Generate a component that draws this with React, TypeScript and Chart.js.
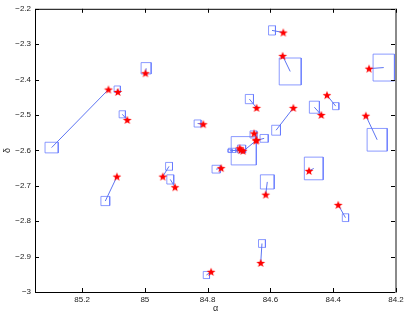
import React, { useEffect, useRef } from 'react';
import { Chart, registerables } from 'chart.js';
Chart.register(...registerables);

// Star positions (alpha, delta)
const starAlpha = [85.116, 85.086, 85.056, 84.998, 84.814, 84.559, 84.561, 84.286, 84.644, 84.527, 84.438, 84.420, 84.296, 84.644, 84.646, 84.652, 84.698, 84.687, 84.694, 84.943, 84.904, 84.757, 84.615, 84.477, 85.089, 84.789, 84.631, 84.384];
const starDelta = [-2.428, -2.435, -2.514, -2.382, -2.526, -2.267, -2.333, -2.369, -2.480, -2.480, -2.500, -2.444, -2.502, -2.571, -2.572, -2.552, -2.594, -2.601, -2.599, -2.674, -2.704, -2.650, -2.725, -2.658, -2.674, -2.943, -2.918, -2.754];
// Box centres (alpha, delta) and half-extents (errors)
const boxAlpha = [85.297, 85.088, 85.072, 84.996, 84.832, 84.595, 84.537, 84.239, 84.667, 84.582, 84.460, 84.392, 84.260, 84.685, 84.620, 84.654, 84.692, 84.722, 84.729, 84.923, 84.919, 84.773, 84.610, 84.462, 85.126, 84.804, 84.627, 84.361];
const boxDelta = [-2.592, -2.427, -2.498, -2.368, -2.524, -2.261, -2.377, -2.366, -2.455, -2.543, -2.478, -2.475, -2.570, -2.601, -2.566, -2.555, -2.596, -2.600, -2.601, -2.645, -2.682, -2.653, -2.689, -2.651, -2.743, -2.952, -2.863, -2.790];
const alphaErr = [0.021, 0.010, 0.010, 0.016, 0.011, 0.011, 0.035, 0.034, 0.013, 0.014, 0.016, 0.010, 0.032, 0.040, 0.013, 0.011, 0.013, 0.012, 0.007, 0.011, 0.011, 0.013, 0.022, 0.030, 0.014, 0.010, 0.011, 0.010];
const deltaErr = [0.015, 0.009, 0.010, 0.016, 0.010, 0.013, 0.038, 0.038, 0.013, 0.014, 0.017, 0.010, 0.032, 0.040, 0.011, 0.010, 0.011, 0.006, 0.004, 0.011, 0.013, 0.011, 0.020, 0.032, 0.013, 0.010, 0.011, 0.011];

const xTicks = [85.2, 85, 84.8, 84.6, 84.4, 84.2];
const yTicks = [-3, -2.9, -2.8, -2.7, -2.6, -2.5, -2.4, -2.3, -2.2];
const xLabel = 'α';
const yLabel = 'δ';

const FONT = '"Liberation Sans", Arial, sans-serif';

function makeStar(): HTMLCanvasElement {
  const c = document.createElement('canvas');
  c.width = 10; c.height = 10;
  const g = c.getContext('2d')!;
  g.fillStyle = '#ff0000';
  g.beginPath();
  const cx = 5, cy = 5.3, ro = 4.6, ri = 1.9;
  for (let k = 0; k < 10; k++) {
    const r = k % 2 === 0 ? ro : ri;
    const a = -Math.PI / 2 + (k * Math.PI) / 5;
    const px = cx + r * Math.cos(a), py = cy + r * Math.sin(a);
    if (k === 0) g.moveTo(px, py); else g.lineTo(px, py);
  }
  g.closePath();
  g.fill();
  return c;
}

const framePlugin = {
  id: 'frame',
  afterDraw(chart: any) {
    const { ctx, chartArea: a, scales } = chart;
    ctx.save();
    ctx.strokeStyle = '#000';
    ctx.lineWidth = 1;
    ctx.beginPath();
    ctx.moveTo(a.left + 0.5, a.top + 0.5);
    ctx.lineTo(a.left + 0.5, a.bottom + 0.5);
    ctx.lineTo(a.right, a.bottom + 0.5);
    ctx.moveTo(a.left, a.top + 0.5);
    ctx.lineTo(a.right, a.top + 0.5);
    ctx.stroke();
    ctx.strokeStyle = '#8a8a8a';
    ctx.lineWidth = 2;
    ctx.beginPath();
    ctx.moveTo(a.right, a.top);
    ctx.lineTo(a.right, a.bottom + 1);
    ctx.stroke();
    ctx.strokeStyle = '#000';
    ctx.lineWidth = 1;
    const tl = 4;
    ctx.beginPath();
    for (const v of xTicks) {
      const px = Math.round(scales.x.getPixelForValue(v)) + 0.5;
      ctx.moveTo(px, a.bottom);
      ctx.lineTo(px, a.bottom - tl);
      ctx.moveTo(px, a.top);
      ctx.lineTo(px, a.top + tl);
    }
    for (const v of yTicks) {
      const py = Math.round(scales.y.getPixelForValue(v)) + 0.5;
      ctx.moveTo(a.left, py);
      ctx.lineTo(a.left + tl, py);
      ctx.moveTo(a.right - 1, py);
      ctx.lineTo(a.right - 1 - tl, py);
    }
    ctx.stroke();
    ctx.restore();
  },
};

export default function App() {
  const ref = useRef<HTMLCanvasElement | null>(null);
  useEffect(() => {
    const starImg = makeStar();
    const stars = starAlpha.map((x, i) => ({ x, y: starDelta[i] }));
    const links: any[] = [];
    starAlpha.forEach((x, i) => {
      links.push({ x, y: starDelta[i] });
      links.push({ x: boxAlpha[i], y: boxDelta[i] });
      links.push({ x: null, y: null });
    });
    const boxes: any[] = [];
    boxAlpha.forEach((x, i) => {
      const y = boxDelta[i], dx = alphaErr[i], dy = deltaErr[i];
      boxes.push({ x: x - dx, y: y - dy });
      boxes.push({ x: x + dx, y: y - dy });
      boxes.push({ x: x + dx, y: y + dy });
      boxes.push({ x: x - dx, y: y + dy });
      boxes.push({ x: x - dx, y: y - dy });
      boxes.push({ x: null, y: null });
    });
    const fmt = (v: any) => String(v).replace('-', '\u2212');
    const chart = new Chart(ref.current!, {
      type: 'scatter',
      data: {
        datasets: [
          {
            label: 'stars',
            data: stars,
            pointStyle: starImg as any,
            pointRadius: 5,
            order: 0,
          },
          {
            type: 'line',
            label: 'links',
            data: links,
            borderColor: '#5c74f2',
            borderWidth: 1,
            pointRadius: 0,
            spanGaps: false,
            fill: false,
            order: 1,
          } as any,
          {
            type: 'line',
            label: 'boxes',
            data: boxes,
            borderColor: 'rgba(100,120,255,0.75)',
            borderWidth: 1,
            pointRadius: 0,
            spanGaps: false,
            fill: false,
            order: 2,
          } as any,
        ],
      },
      options: {
        responsive: false,
        animation: false,
        devicePixelRatio: 1,
        layout: { padding: { top: 7, right: 11, left: 0, bottom: 0 } },
        plugins: { legend: { display: false }, tooltip: { enabled: false } },
        scales: {
          x: {
            type: 'linear',
            min: 84.2,
            max: 85.35,
            reverse: true,
            grid: { display: false, drawTicks: false },
            border: { display: false },
            afterBuildTicks: (s: any) => { s.ticks = xTicks.map((v) => ({ value: v })); },
            afterFit: (s: any) => { s.height = 24; },
            ticks: { callback: fmt, padding: 3, color: '#222', font: { family: FONT, size: 8 }, maxRotation: 0, autoSkip: false },
            title: { display: true, text: xLabel, color: '#222', font: { family: FONT, size: 9 }, padding: { top: 0, bottom: 2 } },
          },
          y: {
            type: 'linear',
            min: -3,
            max: -2.2,
            grid: { display: false, drawTicks: false },
            border: { display: false },
            afterBuildTicks: (s: any) => { s.ticks = yTicks.map((v) => ({ value: v })); },
            afterFit: (s: any) => { s.width = 35; },
            ticks: { callback: fmt, padding: 4, color: '#222', font: { family: FONT, size: 8 }, autoSkip: false },
            title: { display: true, text: yLabel, color: '#222', font: { family: FONT, size: 9 }, padding: { top: 2, bottom: 0 } },
          },
        },
      },
      plugins: [framePlugin],
    });
    return () => chart.destroy();
  }, []);
  return (
    <div style={{ position: 'absolute', left: 0, top: 0, width: 407, height: 316, background: '#fff' }}>
      <canvas ref={ref} width={407} height={316} />
    </div>
  );
}
